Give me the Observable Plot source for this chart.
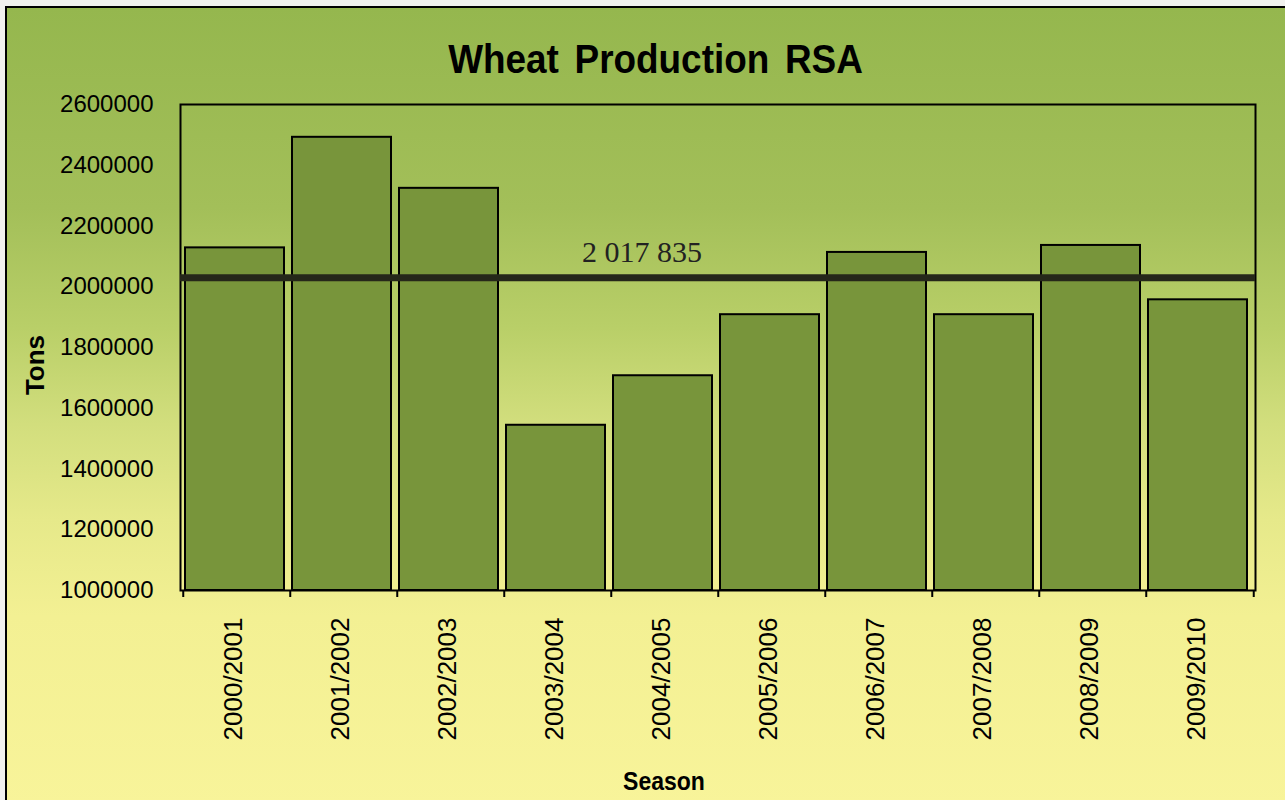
<!DOCTYPE html>
<html>
<head>
<meta charset="utf-8">
<script src="https://cdn.jsdelivr.net/npm/d3@7"></script>
<script src="https://cdn.jsdelivr.net/npm/@observablehq/plot@0.6"></script>
<style>
  html, body { margin: 0; padding: 0; background: #f1f1ee; }
  #page { position: relative; width: 1285px; height: 800px; overflow: hidden; background: #f1f1ee; }
  #panel {
    position: absolute; left: 5px; top: 6px; width: 1290px; height: 800px;
    border-left: 2px solid #000; border-top: 2px solid #000;
    background: linear-gradient(to bottom, #95b74e 0%, #a3bf59 25%, #b9cf68 40%, #d2de7d 52%, #e6e98a 64%, #f3f093 76%, #f8f49a 100%);
  }
  #chart { position: absolute; left: 0; top: 0; }
  .lbl { position: absolute; font-family: "Liberation Sans", Arial, sans-serif; font-weight: bold; color: #000; white-space: nowrap; }
  #title { left: 0; width: 1311px; top: 35px; text-align: center; font-size: 41px; line-height: 48px; transform: scaleX(0.9); word-spacing: 6px; }
  #ytitle { left: 35px; top: 365px; font-size: 26px; transform: translate(-50%, -50%) rotate(-90deg); }
  #xtitle { left: 664px; top: 781px; font-size: 25px; transform: translate(-50%, -50%) scaleX(0.92); }
</style>
</head>
<body>
<div id="page">
  <div id="panel"></div>
  <div id="chart"></div>
  <div class="lbl" id="title">Wheat Production RSA</div>
  <div class="lbl" id="ytitle">Tons</div>
  <div class="lbl" id="xtitle">Season</div>
</div>
<script>
const seasons = ["2000/2001","2001/2002","2002/2003","2003/2004","2004/2005","2005/2006","2006/2007","2007/2008","2008/2009","2009/2010"];
const tons = [2128000, 2492000, 2324000, 1544000, 1707000, 1908000, 2113000, 1908000, 2136000, 1957000];
const yTicks = [1000000, 1200000, 1400000, 1600000, 1800000, 2000000, 2200000, 2400000, 2600000];
const averageLine = 2030000;
const averageLabel = "2 017 835";
const yMin = 1000000, yMax = 2600000;

const data = seasons.map((s, i) => ({season: s, tons: tons[i]}));
const bw = (1285 - 180 - 30) / seasons.length;

const chart = Plot.plot({
  width: 1285,
  height: 800,
  marginLeft: 180,
  marginRight: 30,
  marginTop: 104,
  marginBottom: 210,
  style: {background: "transparent", fontFamily: "'Liberation Sans', Arial, sans-serif", color: "#000", overflow: "visible"},
  x: {domain: seasons, padding: 0},
  y: {domain: [yMin, yMax]},
  marks: [
    Plot.barY(data, {x: "season", y1: yMin, y2: "tons", fill: "#78953b", stroke: "#000", strokeWidth: 2, insetLeft: 2, insetRight: 6}),
    Plot.frame({stroke: "#000", strokeWidth: 2}),
    Plot.ruleY([averageLine], {stroke: "#25271a", strokeWidth: 7}),
    Plot.text([averageLabel], {x: () => seasons[4], y: () => averageLine, text: d => d, dx: -23, dy: -25, fontFamily: "'Liberation Serif', 'Times New Roman', serif", fontSize: 30, fill: "#222"}),
    Plot.axisY({ticks: yTicks, tickSize: 0, tickPadding: 27, tickFormat: d3.format("d"), fontSize: 24, label: null}),
    Plot.axisX({tickSize: 0, tickRotate: -90, tickPadding: 27, fontSize: 26, dx: -3, label: null}),
    Plot.axisX({tickSize: 7, tickFormat: () => "", dx: -bw / 2, label: null, strokeWidth: 2}),
    Plot.axisX({ticks: [seasons[seasons.length - 1]], tickSize: 7, tickFormat: () => "", dx: bw / 2, label: null, strokeWidth: 2})
  ]
});
document.getElementById("chart").appendChild(chart);
</script>
</body>
</html>
